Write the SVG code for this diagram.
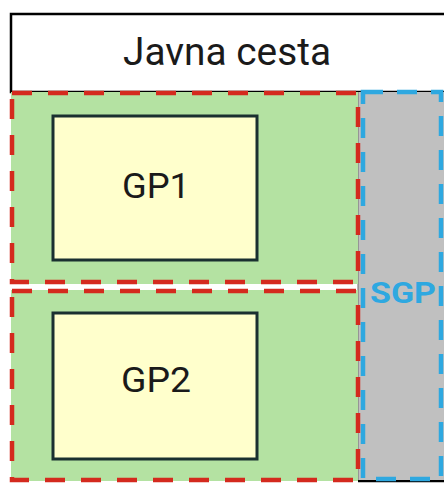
<svg xmlns="http://www.w3.org/2000/svg" width="444" height="483" viewBox="0 0 444 483">
<style>
.plot{fill:#b4e2a2;stroke:none}
.red{fill:none;stroke:#d42a1e;stroke-width:4.5;stroke-dasharray:20 16}
.gp{fill:#ffffcc;stroke:#1a3030;stroke-width:3}
.lbl{font-family:"Roboto","Liberation Sans",sans-serif;fill:#1a1a1a;text-anchor:middle}
</style>
<rect width="444" height="483" fill="#ffffff"/>
<g id="road">
<rect x="11" y="14" width="440" height="78" fill="#ffffff" stroke="#000" stroke-width="2.5"/>
<text x="227" y="65" class="lbl" font-size="38" textLength="208" lengthAdjust="spacingAndGlyphs">Javna cesta</text>
</g>
<g id="sgp">
<rect x="358" y="92" width="90" height="391" fill="#c0c0c0"/>
<line x1="358" y1="92" x2="358" y2="481" stroke="#6a6a6a" stroke-width="1"/>
<line x1="358" y1="481" x2="444" y2="481" stroke="#000" stroke-width="2"/>
<rect x="363" y="92" width="78" height="387" fill="none" stroke="#2ea8e0" stroke-width="4.5" stroke-dasharray="20 14"/>
<text x="403" y="303" font-family="Roboto, 'Liberation Sans', sans-serif" font-size="30" font-weight="bold" fill="#2ea8e0" text-anchor="middle" textLength="66" lengthAdjust="spacingAndGlyphs">SGP</text>
</g>
<g id="plot1">
<rect class="plot" x="11" y="92" width="347" height="192"/>
<rect class="red" x="12" y="93" width="346" height="189"/>
</g>
<g id="plot2">
<rect class="plot" x="11" y="290" width="347" height="191"/>
<rect class="red" x="12" y="291" width="346" height="189"/>
</g>
<g id="gp1">
<rect class="gp" x="53" y="116" width="204" height="144"/>
<text x="156" y="198" class="lbl" font-size="35" textLength="68" lengthAdjust="spacingAndGlyphs">GP1</text>
</g>
<g id="gp2">
<rect class="gp" x="53" y="313" width="204" height="146"/>
<text x="156" y="392" class="lbl" font-size="35" textLength="70" lengthAdjust="spacingAndGlyphs">GP2</text>
</g>
</svg>
